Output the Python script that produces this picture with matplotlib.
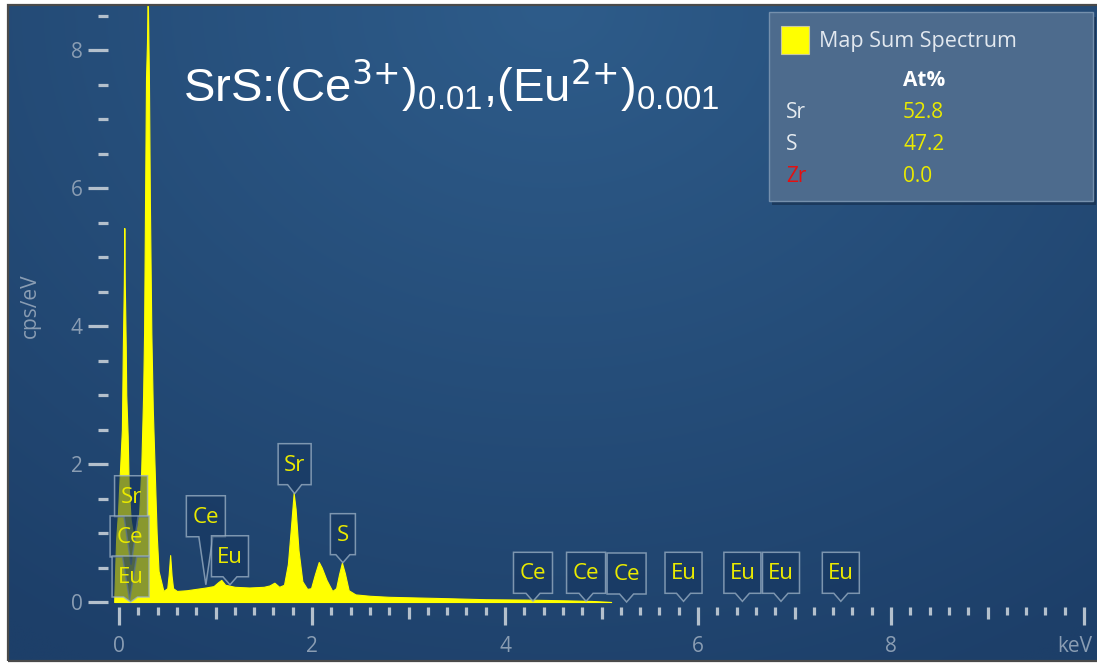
import numpy as np
import matplotlib
matplotlib.use('Agg')
import matplotlib.pyplot as plt
from matplotlib.patches import Polygon, Rectangle
from matplotlib.transforms import Affine2D, ScaledTranslation
from matplotlib.ticker import FixedLocator, FixedFormatter

plt.rcParams['mathtext.default'] = 'regular'

# map sum spectrum, keV vs cps/eV
energy = [-0.05, -0.03, -0.01, 0.01, 0.03, 0.04, 0.05, 0.055, 0.06, 0.07, 0.075,
          0.09, 0.10, 0.12, 0.15, 0.18, 0.21, 0.23, 0.25, 0.26, 0.27, 0.28,
          0.29, 0.295, 0.30, 0.305, 0.31, 0.32, 0.335, 0.35, 0.37, 0.39, 0.41,
          0.46, 0.50, 0.515, 0.53, 0.545, 0.56, 0.60, 0.70, 0.80, 0.90, 0.98,
          1.03, 1.06, 1.10, 1.20, 1.35, 1.50, 1.56, 1.61, 1.66, 1.71, 1.75, 1.78,
          1.81, 1.83, 1.86, 1.90, 1.95, 1.99, 2.03, 2.07, 2.10, 2.15, 2.21, 2.25,
          2.28, 2.31, 2.34, 2.38, 2.45, 2.60, 2.80, 3.10, 3.40, 3.80, 4.20, 4.60,
          4.90, 5.10]
counts = [0.0, 0.9, 1.3, 1.9, 2.5, 3.7, 4.6, 5.42, 4.6, 3.7, 3.0,
          2.4, 1.7, 1.2, 0.95, 1.0, 1.3, 1.9, 3.0, 3.9, 5.8, 7.6,
          8.1, 8.65, 8.65, 8.1, 7.6, 5.8, 3.9, 2.8, 1.9, 1.0, 0.45,
          0.16, 0.2, 0.4, 0.68, 0.38, 0.2, 0.16, 0.17, 0.19, 0.21, 0.23,
          0.29, 0.32, 0.25, 0.22, 0.21, 0.22, 0.24, 0.28, 0.22, 0.25, 0.55, 1.05,
          1.58, 1.35, 0.75, 0.3, 0.19, 0.2, 0.4, 0.58, 0.5, 0.32, 0.16, 0.2,
          0.4, 0.57, 0.42, 0.17, 0.11, 0.09, 0.075, 0.065, 0.055, 0.04, 0.035, 0.025,
          0.015, 0.0]

# element line markers: label, line energy, height of the pointer tip, box lift (px)
line_names = ['Sr', 'Ce', 'Eu', 'Ce', 'Eu', 'Sr', 'S', 'Ce', 'Ce', 'Ce', 'Eu', 'Eu', 'Eu', 'Eu']
line_kev = [0.125, 0.11, 0.12, 0.90, 1.15, 1.82, 2.32, 4.29, 4.84, 5.26, 5.85, 6.46, 6.86, 7.48]
line_tip = [0.54, 0.03, 0.0, 0.25, 0.25, 1.57, 0.57, 0.01, 0.01, 0.0, 0.01, 0.01, 0.01, 0.01]
line_lift = [48, 43, 5, 48, 8, 9, 8, 8, 8, 8, 8, 8, 8, 8]

# quantification table
quant_elems = ['Sr', 'S', 'Zr']
quant_at = [52.8, 47.2, 0.0]

W, H = 1097, 664
fig = plt.figure(figsize=(W / 100, H / 100), dpi=100)
fig.patch.set_facecolor('white')

def px(x, y):
    return x / W, 1 - y / H

ax = fig.add_axes([8 / W, 1 - 661 / H, (W - 8) / W, 656 / H])

# blue radial backdrop
gx, gy = np.meshgrid(np.linspace(0, 1, 300), np.linspace(0, 1, 200))
r = np.clip(np.sqrt(((gx - 0.5) / 0.85) ** 2 + ((gy - 1.0) / 1.15) ** 2), 0, 1)
inner = np.array([0x2e, 0x5c, 0x8a]) / 255
outer = np.array([0x1d, 0x3f, 0x69]) / 255
bg = inner * (1 - r[..., None]) + outer * r[..., None]
ax.imshow(bg, extent=(0, 1, 0, 1), transform=ax.transAxes, origin='lower',
          aspect='auto', zorder=0, interpolation='bilinear')

ax.fill_between(energy, counts, 0, color='#ffff00', lw=0.8, zorder=2)

ax.set_xlim((8 - 119) / 96.5, (W - 119) / 96.5)
ax.set_ylim((602 - 661) / 69, (602 - 5) / 69)

# axis spines only carry the ticks
for s in ax.spines.values():
    s.set_visible(False)
ax.spines['left'].set_position(('data', -0.114))
ax.spines['bottom'].set_position(('data', -0.0725))

tick_c = '#b4c0cc'
lab_c = '#8a9db3'
ax.yaxis.set_major_locator(FixedLocator([0, 2, 4, 6, 8]))
ax.yaxis.set_minor_locator(FixedLocator([0.5, 1, 1.5, 2.5, 3, 3.5, 4.5, 5, 5.5, 6.5, 7, 7.5, 8.5]))
ax.tick_params(axis='y', which='major', length=14.4, width=2.3, color=tick_c,
               labelcolor=lab_c, labelsize=15, pad=4)
ax.tick_params(axis='y', which='minor', length=7.2, width=2.3, color=tick_c)

ax.xaxis.set_major_locator(FixedLocator(list(range(0, 11))))
ax.xaxis.set_major_formatter(FixedFormatter(['0', '', '2', '', '4', '', '6', '', '8', '', 'keV']))
ax.xaxis.set_minor_locator(FixedLocator([i / 5 for i in range(51) if i % 5]))
ax.tick_params(axis='x', which='major', length=13, width=2.3, color=tick_c,
               labelcolor=lab_c, labelsize=15, pad=8)
ax.tick_params(axis='x', which='minor', length=5.8, width=2.3, color=tick_c)
for i, t in enumerate(ax.xaxis.get_major_ticks(11)):
    t.label1.set_fontfamily('Open Sans')
    if i % 2:
        t.tick1line.set_markersize(8.6)
for t in ax.yaxis.get_major_ticks(5):
    t.label1.set_fontfamily('Open Sans')
kev_lab = ax.xaxis.get_major_ticks(11)[10].label1
kev_lab.set_transform(kev_lab.get_transform() + ScaledTranslation(-9 / 100, 0, fig.dpi_scale_trans))

fig.text(*px(30, 306), 'cps/eV', rotation=90, ha='center', va='center',
         color=lab_c, fontsize=15, family='Open Sans')

# element markers
box_w = {'Sr': 33, 'Ce': 39, 'Eu': 37, 'S': 25}
for name, kev, tip, lift in zip(line_names, line_kev, line_tip, line_lift):
    w, h, nh = box_w[name], 41, 7
    tr = Affine2D().scale(fig.dpi / 100) + ScaledTranslation(kev, tip, ax.transData)
    verts = [(-nh, lift), (-w / 2, lift), (-w / 2, lift + h), (w / 2, lift + h),
             (w / 2, lift), (nh, lift), (0, 0)]
    ax.add_patch(Polygon(verts, closed=True, transform=tr, fc=(0.08, 0.2, 0.36, 0.5),
                         ec=(0.62, 0.7, 0.78, 0.75), lw=1.1, zorder=3))
    ax.text(0, lift + h / 2 - 1, name, transform=tr, ha='center', va='center',
            color='#eaea00', fontsize=16, family='Open Sans', zorder=4)

ax.set_xlim((8 - 119) / 96.5, (W - 119) / 96.5)
ax.set_ylim((602 - 661) / 69, (602 - 5) / 69)

# compound name
fig.text(*px(183, 101), r'SrS:(Ce$^{\text{3+}}$)$_{0.01}$,(Eu$^{\text{2+}}$)$_{0.001}$',
         color='white', fontsize=34, family='Liberation Sans', va='baseline')

# legend / quantification panel
fig.patches.append(Rectangle(px(772, 205), 324 / W, 188 / H, transform=fig.transFigure,
                             fc=(0.05, 0.12, 0.22, 0.45), ec='none', zorder=5))
fig.patches.append(Rectangle(px(769, 201), 324 / W, 189 / H, transform=fig.transFigure,
                             fc='#4d6b8d', ec='#7590ad', lw=1, zorder=6))
fig.patches.append(Rectangle(px(781, 54), 28 / W, 28 / H, transform=fig.transFigure,
                             fc='#ffff00', ec='#c8c8a0', lw=0.8, zorder=7))
fig.text(*px(819, 41), 'Map Sum Spectrum', color='#e2e8ef', fontsize=15.5,
         family='Open Sans', va='center', zorder=8)
fig.text(*px(903, 80), 'At%', color='white', fontsize=15, fontweight='bold',
         family='Open Sans', va='center', zorder=8)
for i, (el, val) in enumerate(zip(quant_elems, quant_at)):
    y = 112 + i * 32.5
    fig.text(*px(786, y), el, color='#e41010' if el == 'Zr' else '#e6ebf0',
             fontsize=15, family='Open Sans', va='center', zorder=8)
    fig.text(*px(903, y), f'{val:.1f}', color='#eaea00', fontsize=15,
             family='Open Sans', va='center', zorder=8)

# outer frame
fig.patches.append(Rectangle(px(8, 661), 1, 656 / H, transform=fig.transFigure,
                             fc='none', ec='#4a4a4a', lw=1.6, zorder=10))

fig.savefig('out.png', dpi=100)
